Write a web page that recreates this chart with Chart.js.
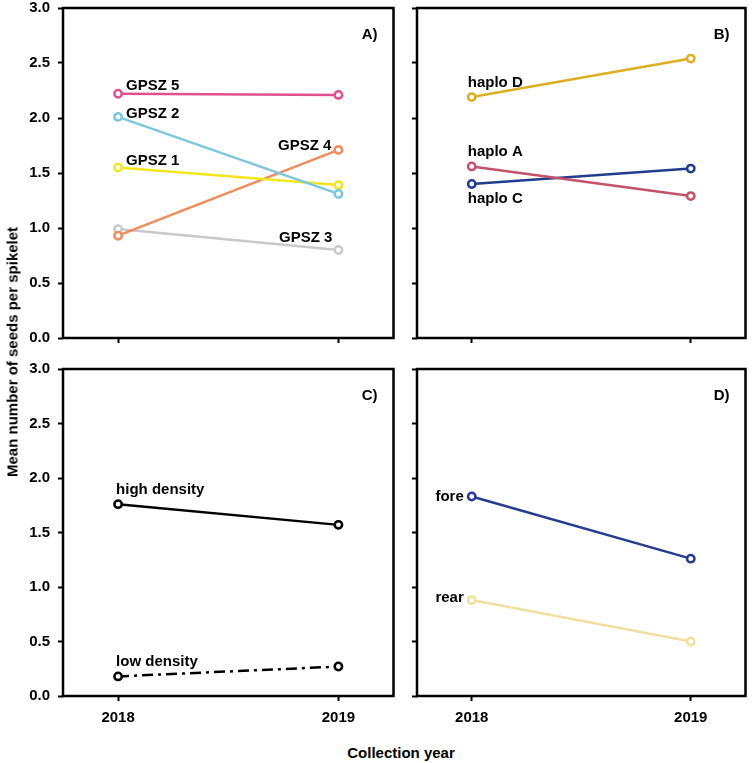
<!DOCTYPE html>
<html><head><meta charset="utf-8">
<script src="https://cdn.jsdelivr.net/npm/chart.js@4"></script>
<style>
body{margin:0;background:#fff;width:752px;height:763px;position:relative;overflow:hidden;font-family:"Liberation Sans",Arial,sans-serif;}
canvas{position:absolute;}
.t{position:absolute;font-weight:bold;font-size:15px;color:#000;white-space:nowrap;}
</style></head><body>
<canvas id="cA" width="400" height="362" style="left:0;top:0"></canvas>
<canvas id="cB" width="352" height="362" style="left:400px;top:0"></canvas>
<canvas id="cC" width="400" height="378" style="left:0;top:362px"></canvas>
<canvas id="cD" width="352" height="378" style="left:400px;top:362px"></canvas>
<div class="t" style="left:12px;top:352px;transform:translate(-50%,-50%) rotate(-90deg);">Mean number of seeds per spikelet</div>
<div class="t" style="left:401px;top:752px;transform:translate(-50%,-50%);">Collection year</div>
<script>
// ---- data ----
const years = [2018, 2019];
const yearLabels = ['2018', '2019'];
const yTickLabels = ['0.0', '0.5', '1.0', '1.5', '2.0', '2.5', '3.0'];

const namesA = ['GPSZ 5', 'GPSZ 2', 'GPSZ 1', 'GPSZ 4', 'GPSZ 3'];
const gpsz5 = [2.22, 2.21];
const gpsz2 = [2.01, 1.31];
const gpsz1 = [1.55, 1.39];
const gpsz4 = [0.93, 1.71];
const gpsz3 = [0.99, 0.80];

const namesB = ['haplo D', 'haplo A', 'haplo C'];
const haploD = [2.19, 2.54];
const haploA = [1.56, 1.29];
const haploC = [1.40, 1.54];

const namesC = ['high density', 'low density'];
const highDensity = [1.76, 1.57];
const lowDensity = [0.18, 0.27];

const namesD = ['fore', 'rear'];
const fore = [1.83, 1.26];
const rear = [0.88, 0.50];

const panelLetters = ['A)', 'B)', 'C)', 'D)'];

// ---- rendering ----
const FONT = '"Liberation Sans", Arial, sans-serif';
Chart.defaults.font.family = FONT;
Chart.defaults.font.size = 15;
Chart.defaults.font.weight = 'bold';
Chart.defaults.color = '#000';

const decor = {
  id: 'decor',
  afterDatasetsDraw(chart, args, o) {
    const {ctx, chartArea: a, scales: {x, y}} = chart;
    ctx.save();
    ctx.font = 'bold 15px ' + FONT;
    ctx.fillStyle = '#000';
    ctx.textBaseline = 'alphabetic';
    (o.labels || []).forEach(l => {
      const ds = chart.data.datasets[l.ds];
      const pt = ds.data[l.i];
      ctx.textAlign = l.align;
      ctx.fillText(ds.label, x.getPixelForValue(pt.x) + l.dx, y.getPixelForValue(pt.y) + l.dy);
    });
    ctx.textAlign = 'right';
    ctx.fillText(o.letter, a.right - 16, a.top + 31);
    ctx.lineWidth = 2.5;
    ctx.strokeStyle = '#000';
    ctx.strokeRect(a.left, a.top, a.right - a.left, a.bottom - a.top);
    ctx.restore();
  }
};

function series(name, vals, color, dash) {
  return {
    label: name,
    data: years.map((yr, i) => ({x: yr, y: vals[i]})),
    borderColor: color,
    borderWidth: 2.5,
    borderDash: dash || [],
    pointRadius: 3.7,
    pointBorderWidth: 2.5,
    pointBackgroundColor: '#fff',
    pointBorderColor: color,
    tension: 0
  };
}

function noPad(s) { s.paddingTop = 0; s.paddingBottom = 0; s.paddingLeft = 0; s.paddingRight = 0; }

function makeChart(id, datasets, cfg) {
  new Chart(document.getElementById(id), {
    type: 'line',
    data: {datasets},
    plugins: [decor],
    options: {
      responsive: false,
      animation: false,
      devicePixelRatio: 1,
      layout: {padding: cfg.padding},
      plugins: {legend: {display: false}, tooltip: {enabled: false}, decor: {letter: cfg.letter, labels: cfg.labels}},
      scales: {
        x: {
          type: 'linear', min: 2017.75, max: 2019.25,
          afterBuildTicks: s => { s.ticks = years.map(v => ({value: v})); },
          afterFit: s => { s.height = cfg.xH; noPad(s); },
          border: {display: false},
          grid: {drawOnChartArea: false, drawTicks: true, tickLength: 5, tickWidth: 2, tickColor: '#000'},
          ticks: {display: cfg.xLabels, padding: 8, callback: v => yearLabels[years.indexOf(v)]}
        },
        y: {
          type: 'linear', min: 0, max: 3,
          afterFit: s => { s.width = cfg.yW; noPad(s); },
          border: {display: false},
          grid: {drawOnChartArea: false, drawTicks: true, tickLength: 5, tickWidth: 2, tickColor: '#000'},
          ticks: {display: cfg.yLabels, stepSize: 0.5, padding: 8, callback: (v, i) => yTickLabels[Math.round(v * 2)]}
        }
      }
    }
  });
}

makeChart('cA', [
  series(namesA[0], gpsz5, '#E0508C'),
  series(namesA[1], gpsz2, '#7CC6DE'),
  series(namesA[2], gpsz1, '#F3E61E'),
  series(namesA[3], gpsz4, '#EF8C5C'),
  series(namesA[4], gpsz3, '#C9C9CB')
], {
  letter: panelLetters[0], padding: {top: 8, right: 6, left: 0, bottom: 0}, yW: 63, xH: 24, xLabels: false, yLabels: true,
  labels: [
    {ds: 0, i: 0, dx: 8, dy: -3.5, align: 'left'},
    {ds: 1, i: 0, dx: 8, dy: 1.5, align: 'left'},
    {ds: 2, i: 0, dx: 8, dy: -2.5, align: 'left'},
    {ds: 3, i: 1, dx: -7, dy: 0.5, align: 'right'},
    {ds: 4, i: 1, dx: -6, dy: -8.5, align: 'right'}
  ]
});

makeChart('cB', [
  series(namesB[0], haploD, '#DDAE23'),
  series(namesB[1], haploA, '#C4526A'),
  series(namesB[2], haploC, '#213C8C')
], {
  letter: panelLetters[1], padding: {top: 8, right: 4, left: 0, bottom: 0}, yW: 17, xH: 24, xLabels: false, yLabels: false,
  labels: [
    {ds: 0, i: 0, dx: -4, dy: -10, align: 'left'},
    {ds: 1, i: 0, dx: -4, dy: -10, align: 'left'},
    {ds: 2, i: 0, dx: -4, dy: 19, align: 'left'}
  ]
});

makeChart('cC', [
  series(namesC[0], highDensity, '#000000'),
  series(namesC[1], lowDensity, '#000000', [11, 5, 3, 5])
], {
  letter: panelLetters[2], padding: {top: 7, right: 6, left: 0, bottom: 0}, yW: 63, xH: 44, xLabels: true, yLabels: true,
  labels: [
    {ds: 0, i: 0, dx: -2, dy: -10, align: 'left'},
    {ds: 1, i: 0, dx: -2, dy: -10, align: 'left'}
  ]
});

makeChart('cD', [
  series(namesD[0], fore, '#233C8E'),
  series(namesD[1], rear, '#F1DFA2')
], {
  letter: panelLetters[3], padding: {top: 7, right: 4, left: 0, bottom: 0}, yW: 17, xH: 44, xLabels: true, yLabels: false,
  labels: [
    {ds: 0, i: 0, dx: -8, dy: 4, align: 'right'},
    {ds: 1, i: 0, dx: -8, dy: 2, align: 'right'}
  ]
});
</script>
</body></html>
